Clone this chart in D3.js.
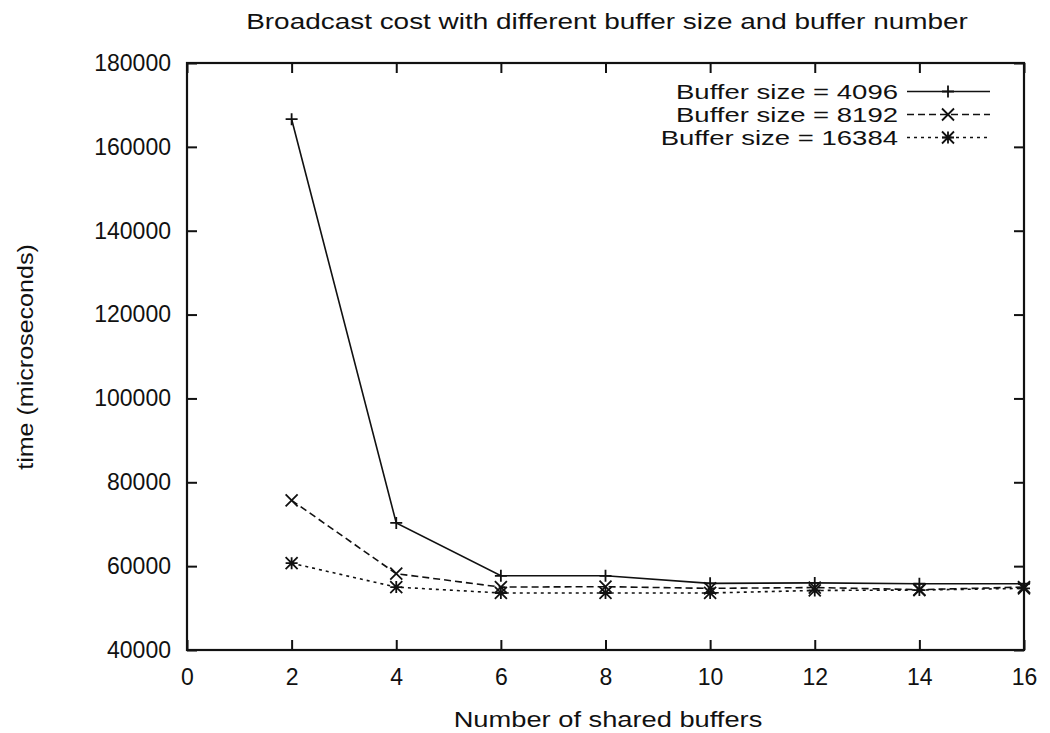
<!DOCTYPE html>
<html>
<head>
<meta charset="utf-8">
<script src="https://cdn.jsdelivr.net/npm/d3@7"></script>
<style>
  body { margin: 0; background: #fff; }
  svg text { font-family: "Liberation Sans", Arial, sans-serif; fill: #111; }
</style>
</head>
<body>
<div id="chart"></div>
<script>
// chart data
const bufferCounts = [2, 4, 6, 8, 10, 12, 14, 16];
const size4096 = [166600, 70300, 57700, 57700, 55900, 56000, 55800, 55800];
const size8192 = [75700, 58200, 55000, 55100, 54700, 54900, 54400, 55000];
const size16384 = [60700, 55000, 53600, 53600, 53600, 54200, 54300, 54700];
const seriesNames = ["Buffer size = 4096", "Buffer size = 8192", "Buffer size = 16384"];
const xTicks = [0, 2, 4, 6, 8, 10, 12, 14, 16];
const yTicks = [40000, 60000, 80000, 100000, 120000, 140000, 160000, 180000];

const W = 1050, H = 733;
const margin = { top: 63, right: 26, bottom: 83, left: 187 };
const width = W - margin.left - margin.right;
const height = H - margin.top - margin.bottom;

const svg = d3.select("#chart").append("svg")
  .attr("width", W).attr("height", H);

const g = svg.append("g")
  .attr("transform", `translate(${margin.left},${margin.top})`);

const x = d3.scaleLinear().domain([0, 16]).range([0, width]);
const y = d3.scaleLinear().domain([40000, 180000]).range([height, 0]);

// gnuplot style ticks: inward, mirrored
const tickLen = 10;
const xAxisB = g.append("g").attr("transform", `translate(0,${height})`)
  .call(d3.axisBottom(x).tickValues(xTicks).tickSize(-tickLen).tickPadding(19).tickFormat(d3.format("d")));
const xAxisT = g.append("g")
  .call(d3.axisTop(x).tickValues(xTicks).tickSize(-tickLen).tickFormat(""));
const yAxisL = g.append("g")
  .call(d3.axisLeft(y).tickValues(yTicks).tickSize(-tickLen).tickPadding(16).tickFormat(d3.format("d")));
const yAxisR = g.append("g").attr("transform", `translate(${width},0)`)
  .call(d3.axisRight(y).tickValues(yTicks).tickSize(-tickLen).tickFormat(""));

[xAxisB, xAxisT, yAxisL, yAxisR].forEach(a => {
  a.select(".domain").remove();
  a.selectAll("line").attr("stroke", "#111").attr("stroke-width", 2);
  a.selectAll("text").attr("font-size", 23).attr("fill", "#111");
});
xAxisB.selectAll("text").attr("dy", "0.71em");

// frame
g.append("rect")
  .attr("x", 0).attr("y", 0).attr("width", width).attr("height", height)
  .attr("fill", "none").attr("stroke", "#111").attr("stroke-width", 2.2);

// the original lettering is wide, so stretch the text horizontally
function wideText(sel, tx, ty, txt, size, sx, anchor, rot) {
  const r = rot ? ` rotate(${rot})` : "";
  return sel.append("text")
    .attr("transform", `translate(${tx},${ty})${r} scale(${sx},1)`)
    .attr("text-anchor", anchor)
    .attr("font-size", size)
    .text(txt);
}

wideText(svg, 607, 29, "Broadcast cost with different buffer size and buffer number", 22, 1.27, "middle");
wideText(svg, 608, 727, "Number of shared buffers", 22, 1.24, "middle");
wideText(svg, 33, 357, "time (microseconds)", 22, 1.14, "middle", -90);

// markers
function drawMarker(sel, type, cx, cy) {
  const s = 6;
  let d = "";
  if (type === "plus" || type === "star") d += `M${cx - s},${cy}H${cx + s}M${cx},${cy - s}V${cy + s}`;
  if (type === "cross" || type === "star") d += `M${cx - s},${cy - s}L${cx + s},${cy + s}M${cx - s},${cy + s}L${cx + s},${cy - s}`;
  sel.append("path").attr("d", d).attr("stroke", "#111").attr("stroke-width", 1.8).attr("fill", "none");
}

const series = [
  { name: seriesNames[0], values: size4096, dash: null, marker: "plus" },
  { name: seriesNames[1], values: size8192, dash: "7,4", marker: "cross" },
  { name: seriesNames[2], values: size16384, dash: "3,4", marker: "star" },
];

const line = d3.line().x(d => x(d[0])).y(d => y(d[1]));

series.forEach(s => {
  const pts = bufferCounts.map((b, i) => [b, s.values[i]]);
  g.append("path")
    .datum(pts)
    .attr("d", line)
    .attr("fill", "none")
    .attr("stroke", "#111")
    .attr("stroke-width", 1.6)
    .attr("stroke-dasharray", s.dash);
  const mg = g.append("g");
  pts.forEach(p => drawMarker(mg, s.marker, x(p[0]), y(p[1])));
});

// legend
const legend = svg.append("g");
series.forEach((s, i) => {
  const ly = 91.5 + i * 23;
  wideText(legend, 898, ly + 7.5, s.name, 21, 1.31, "end");
  legend.append("line")
    .attr("x1", 907).attr("x2", 990).attr("y1", ly).attr("y2", ly)
    .attr("stroke", "#111").attr("stroke-width", 1.6)
    .attr("stroke-dasharray", s.dash);
  drawMarker(legend, s.marker, 948, ly);
});
</script>
</body>
</html>
